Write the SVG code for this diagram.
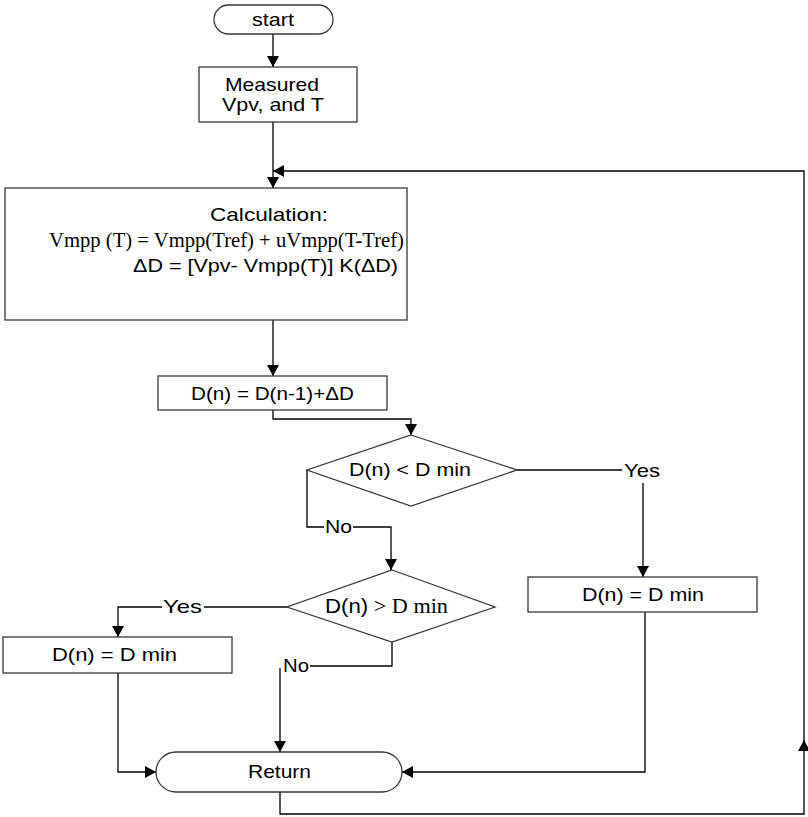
<svg xmlns="http://www.w3.org/2000/svg" width="808" height="817" viewBox="0 0 808 817">
<style>
.shape{fill:#fff;stroke:#3a3a3a;stroke-width:1.3}
.conn{fill:none;stroke:#000;stroke-width:1.3}
.t{font-family:"Liberation Sans",Arial,sans-serif;font-size:19px;fill:#000}
.tm{font-family:"Liberation Serif","Times New Roman",serif;font-size:20px;fill:#000}
.lbl{font-family:"Liberation Sans",Arial,sans-serif;font-size:19px;fill:#000}
</style>
<defs>
<marker id="ah" markerUnits="userSpaceOnUse" markerWidth="12" markerHeight="12" refX="11" refY="6" orient="auto">
<path d="M0,0 L11,6 L0,12 z" fill="#000"/>
</marker>
</defs>
<g id="connectors">
<path class="conn" d="M273,34 V67" marker-end="url(#ah)"/>
<path class="conn" d="M273,122 V188" marker-end="url(#ah)"/>
<path class="conn" d="M273,320 V376" marker-end="url(#ah)"/>
<path class="conn" d="M273,410 V419 H411 V435" marker-end="url(#ah)"/>
<path class="conn" d="M517,470 H622"/>
<path class="conn" d="M643,483 V577" marker-end="url(#ah)"/>
<path class="conn" d="M307,470 V527 H324"/>
<path class="conn" d="M353,527 H391 V570" marker-end="url(#ah)"/>
<path class="conn" d="M287,607 H204"/>
<path class="conn" d="M162,607 H118 V637" marker-end="url(#ah)"/>
<path class="conn" d="M392,642 V666 H310"/>
<path class="conn" d="M280,668 V752" marker-end="url(#ah)"/>
<path class="conn" d="M118,673 V772 H156" marker-end="url(#ah)"/>
<path class="conn" d="M645,612 V772 H402" marker-end="url(#ah)"/>
<path class="conn" d="M280,792 V814 H804 V740" marker-end="url(#ah)"/>
<path class="conn" d="M804,742 V171 H273" marker-end="url(#ah)"/>
<text class="lbl" x="624" y="477" textLength="36" lengthAdjust="spacingAndGlyphs">Yes</text>
<text class="lbl" x="325" y="533" textLength="27" lengthAdjust="spacingAndGlyphs">No</text>
<text class="lbl" x="163" y="613" textLength="39" lengthAdjust="spacingAndGlyphs">Yes</text>
<text class="lbl" x="283" y="672" textLength="26" lengthAdjust="spacingAndGlyphs">No</text>
</g>
<g id="start">
<rect class="shape" x="214" y="5" width="119" height="29" rx="14.5" ry="14.5"/>
<text class="t" x="252" y="26" textLength="42" lengthAdjust="spacingAndGlyphs">start</text>
</g>
<g id="measured">
<rect class="shape" x="199" y="67" width="158" height="55"/>
<text class="t" x="225" y="91" textLength="94" lengthAdjust="spacingAndGlyphs">Measured</text>
<text class="t" x="222" y="111" textLength="102" lengthAdjust="spacingAndGlyphs">Vpv, and T</text>
</g>
<g id="calculation">
<rect class="shape" x="5" y="188" width="402" height="132"/>
<text class="t" x="210" y="221" font-size="20" textLength="118" lengthAdjust="spacingAndGlyphs">Calculation:</text>
<text class="tm" x="49" y="247" textLength="355" lengthAdjust="spacingAndGlyphs">Vmpp (T) = Vmpp(Tref) + uVmpp(T-Tref)</text>
<text class="t" x="133" y="272" textLength="265" lengthAdjust="spacingAndGlyphs">ΔD = [Vpv- Vmpp(T)] K(ΔD)</text>
</g>
<g id="update">
<rect class="shape" x="158" y="376" width="229" height="34"/>
<text class="t" x="191" y="400" textLength="163" lengthAdjust="spacingAndGlyphs">D(n) = D(n-1)+ΔD</text>
</g>
<g id="decision1">
<polygon class="shape" points="411,435 517,470 411,506 307,470"/>
<text class="t" x="349" y="476" textLength="122" lengthAdjust="spacingAndGlyphs">D(n) &lt; D min</text>
</g>
<g id="setmin-right">
<rect class="shape" x="528" y="577" width="229" height="35"/>
<text class="t" x="582" y="601" textLength="122" lengthAdjust="spacingAndGlyphs">D(n) = D min</text>
</g>
<g id="decision2">
<polygon class="shape" points="392,570 495,607 392,642 287,607"/>
<text x="325" y="613" textLength="123" lengthAdjust="spacingAndGlyphs"><tspan font-family="'Liberation Sans', Arial, sans-serif" font-size="20">D(n)</tspan><tspan font-family="'Liberation Serif', 'Times New Roman', serif" font-size="20"> &gt; D min</tspan></text>
</g>
<g id="setmin-left">
<rect class="shape" x="3" y="637" width="229" height="36"/>
<text class="t" x="52" y="661" textLength="125" lengthAdjust="spacingAndGlyphs">D(n) = D min</text>
</g>
<g id="return">
<rect class="shape" x="156" y="752" width="246" height="40" rx="20" ry="20"/>
<text class="t" x="248" y="778" textLength="63" lengthAdjust="spacingAndGlyphs">Return</text>
</g>
</svg>
